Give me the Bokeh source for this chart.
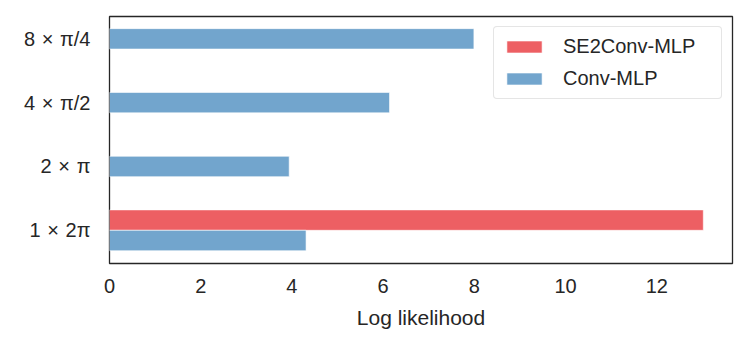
from bokeh.plotting import figure
from bokeh.models import Range1d, FixedTicker, ColumnDataSource, Legend
from bokeh.embed import file_html
from bokeh.resources import INLINE

# ---- data ----
categories = ["1\u2004×\u20042π", "2\u2004×\u2004π", "4\u2004×\u2004π/2", "8\u2004×\u2004π/4"]
conv_mlp = [4.31, 3.94, 6.14, 7.99]
se2conv_mlp = [13.02, None, None, None]
x_ticks = [0, 2, 4, 6, 8, 10, 12]

FONT = "Liberation Sans"
TXT = "#262626"
RED = "#ED5F63"
BLUE = "#72A5CD"
BAR_H = 0.32

p = figure(width=740, height=340, output_backend="svg", toolbar_location=None,
           x_range=Range1d(0, 13.66), y_range=Range1d(-0.52, 3.35),
           min_border_left=109, min_border_right=8, min_border_top=16,
           min_border_bottom=77)

ypos = list(range(len(categories)))
blue_y, red_y, red_x = [], [], []
for i, (b, r) in enumerate(zip(conv_mlp, se2conv_mlp)):
    if r is not None:
        blue_y.append(i - BAR_H / 2)
        red_y.append(i + BAR_H / 2)
        red_x.append(r)
    else:
        blue_y.append(i)

rsrc = ColumnDataSource(dict(y=red_y, right=red_x))
bsrc = ColumnDataSource(dict(y=blue_y, right=conv_mlp))

r1 = p.hbar(y="y", right="right", left=0, height=BAR_H, source=rsrc,
            fill_color=RED, line_color="white", line_width=0.6)
r2 = p.hbar(y="y", right="right", left=0, height=BAR_H, source=bsrc,
            fill_color=BLUE, line_color="white", line_width=0.6)

legend = Legend(items=[("SE2Conv-MLP", [r1]), ("Conv-MLP", [r2])],
                location="top_right", margin=10, padding=8,
                glyph_width=44, glyph_height=15, label_height=22,
                label_width=150, label_standoff=17, spacing=9,
                label_text_font=FONT, label_text_font_size="20px",
                label_text_color=TXT, border_line_color="#cccccc",
                border_line_width=1.2, background_fill_alpha=1.0)
if hasattr(legend, "border_radius"):
    legend.border_radius = 4
p.add_layout(legend)

p.xaxis.ticker = FixedTicker(ticks=x_ticks)
p.yaxis.ticker = FixedTicker(ticks=ypos)
p.yaxis.major_label_overrides = {i: c for i, c in zip(ypos, categories)}
p.xaxis.axis_label = "Log likelihood"

for ax in (p.xaxis[0], p.yaxis[0]):
    ax.axis_line_color = None
    ax.major_tick_line_color = None
    ax.minor_tick_line_color = None
    ax.major_label_text_font = FONT
    ax.major_label_text_font_size = "20px"
    ax.major_label_text_color = TXT
    ax.axis_label_text_font = FONT
    ax.axis_label_text_font_size = "21px"
    ax.axis_label_text_font_style = "normal"
    ax.axis_label_text_color = TXT
p.xaxis.major_label_standoff = 9
p.yaxis.major_label_standoff = 13
p.xaxis.axis_label_standoff = 10

p.xgrid.grid_line_color = None
p.ygrid.grid_line_color = None
p.outline_line_color = TXT
p.outline_line_width = 1.3
p.background_fill_color = "white"
p.border_fill_color = "white"

open("out.html", "w").write(file_html(p, INLINE))
